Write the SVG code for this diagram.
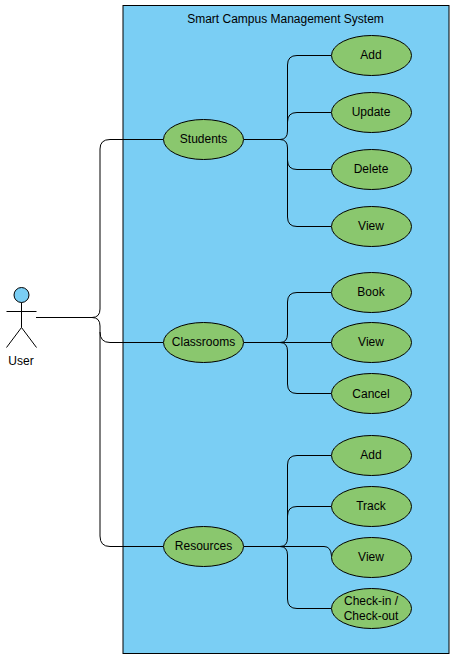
<svg xmlns="http://www.w3.org/2000/svg" width="454" height="658" viewBox="0 0 454 658">
<style>
text{font-family:"Liberation Sans",Arial,sans-serif;font-size:12px;fill:#000;text-anchor:middle}
.uc{fill:#8ac76e;stroke:#000;stroke-width:1}
.c{fill:none;stroke:#000;stroke-width:1}
.a{fill:none;stroke:#000;stroke-width:1}
</style>
<rect width="454" height="658" fill="#fff"/>
<g id="system"><rect x="123" y="5.500" width="326" height="648" fill="#7acef4" stroke="#000" stroke-width="1"/>
<text x="285.500" y="23">Smart Campus Management System</text></g>
<g id="connectors">
<path class="c" d="M36 317.500H92Q100 317.500 100 309V149Q100 139.500 110 139.500H163"/>
<path class="c" d="M92 317.500Q100 317.500 100 326V332Q100 342.500 110 342.500H163"/>
<path class="c" d="M100 332V536Q100 546.500 110 546.500H163"/>
<path class="c" d="M244 139.500H280Q287.500 139.500 287.500 131V65Q287.500 55.500 297 55.500H331"/>
<path class="c" d="M287.500 122Q287.500 112.500 297 112.500H331"/>
<path class="c" d="M280 139.500Q287.500 139.500 287.500 148V217Q287.500 226.500 297 226.500H331"/>
<path class="c" d="M287.500 160Q287.500 169.500 297 169.500H331"/>
<path class="c" d="M244 342.500H331"/>
<path class="c" d="M280 342.500Q287.500 342.500 287.500 334V302Q287.500 292.500 297 292.500H331"/>
<path class="c" d="M280 342.500Q287.500 342.500 287.500 351V384Q287.500 393.500 297 393.500H331"/>
<path class="c" d="M244 546.500H324Q331 546.500 331.500 556"/>
<path class="c" d="M280 546.500Q287.500 546.500 287.500 538V465Q287.500 455.500 297 455.500H331"/>
<path class="c" d="M287.500 516Q287.500 506.500 297 506.500H331"/>
<path class="c" d="M280 546.500Q287.500 546.500 287.500 555V599Q287.500 608.500 297 608.500H331"/>
</g>
<g id="user"><circle cx="21.500" cy="295" r="7.500" fill="#7acef4" stroke="#000"/>
<path class="a" d="M21.500 302.500V327.500M6.500 311.500H36.500M21.500 327.500L6.500 347.500M21.500 327.500L36.500 347.500"/>
<text x="21" y="364.500">User</text></g>
<g id="students"><ellipse class="uc" cx="203.500" cy="139.500" rx="40" ry="20"/><text x="203.500" y="143">Students</text></g>
<g id="classrooms"><ellipse class="uc" cx="203.500" cy="342.500" rx="40" ry="20"/><text x="203.500" y="346">Classrooms</text></g>
<g id="resources"><ellipse class="uc" cx="203.500" cy="546.500" rx="40" ry="20"/><text x="203.500" y="550">Resources</text></g>
<g id="s-add"><ellipse class="uc" cx="371.500" cy="55.500" rx="40" ry="20"/><text x="371" y="59">Add</text></g>
<g id="s-update"><ellipse class="uc" cx="371.500" cy="112.500" rx="40" ry="20"/><text x="371" y="116">Update</text></g>
<g id="s-delete"><ellipse class="uc" cx="371.500" cy="169.500" rx="40" ry="20"/><text x="371" y="173">Delete</text></g>
<g id="s-view"><ellipse class="uc" cx="371.500" cy="226.500" rx="40" ry="20"/><text x="371" y="230">View</text></g>
<g id="c-book"><ellipse class="uc" cx="371.500" cy="292.500" rx="40" ry="20"/><text x="371" y="296">Book</text></g>
<g id="c-view"><ellipse class="uc" cx="371.500" cy="342.500" rx="40" ry="20"/><text x="371" y="346">View</text></g>
<g id="c-cancel"><ellipse class="uc" cx="371.500" cy="393.500" rx="40" ry="20"/><text x="371" y="398">Cancel</text></g>
<g id="r-add"><ellipse class="uc" cx="371.500" cy="455.500" rx="40" ry="20"/><text x="371" y="459">Add</text></g>
<g id="r-track"><ellipse class="uc" cx="371.500" cy="506.500" rx="40" ry="20"/><text x="371" y="510">Track</text></g>
<g id="r-view"><ellipse class="uc" cx="371.500" cy="557.500" rx="40" ry="20"/><text x="371" y="561">View</text></g>
<g id="r-check"><ellipse class="uc" cx="371.500" cy="608.500" rx="40" ry="20"/><text x="371" y="605">Check-in /</text><text x="371" y="620">Check-out</text></g>
</svg>
